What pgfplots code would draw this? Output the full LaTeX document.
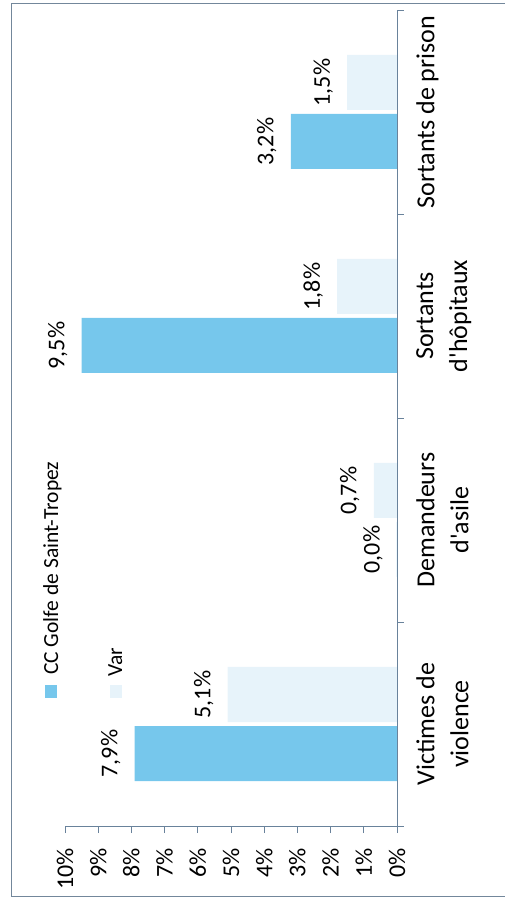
\documentclass[border=0pt]{standalone}
\usepackage{pgfplots}
\pgfplotsset{compat=1.18}
\usepackage{fontspec}
\setmainfont{Carlito}[Ligatures=TeXOff]
\definecolor{ccblue}{RGB}{118,199,236}
\definecolor{varblue}{RGB}{231,243,250}
\definecolor{framec}{RGB}{115,135,155}
\definecolor{axisc}{RGB}{105,130,155}

\begin{document}
\begin{tikzpicture}[x=1pt,y=1pt]
\useasboundingbox (0,0) rectangle (504,906);
\draw[framec, line width=1pt] (510,9) -- (11,9) -- (11,902) -- (510,902);
\begin{axis}[
  at={(65pt,80pt)}, anchor=south west,
  scale only axis, width=332pt, height=816pt,
  xbar, bar width=55pt,
  x dir=reverse,
  xmin=0, xmax=10, ymin=-0.5, ymax=3.5,
  clip=false,
  axis x line*=bottom, axis y line*=right,
  axis line style={axisc, line width=0.9pt},
  tick style={axisc, line width=0.9pt},
  tick align=outside,
  major tick length=7pt,
  /pgf/number format/assume math mode=true,
  xtick={0,1,...,10},
  xticklabel={\pgfmathprintnumber{\tick}\%},
  xticklabel style={rotate=90, anchor=east, inner sep=15pt, font=\fontsize{24}{28}\selectfont},
  ytick={-0.5,0.5,1.5,2.5,3.5},
  yticklabels={},
  extra y ticks={0,1,2,3},
  extra y tick labels={{Victimes de\\violence},{Demandeurs\\d'asile},{Sortants\\d'hôpitaux},{Sortants de prison}},
  extra y tick style={major tick length=0pt, yticklabel style={rotate=90, anchor=north, align=center, inner sep=19pt, font=\fontsize{26}{34}\selectfont}},
  point meta=x,
  nodes near coords={\pgfmathprintnumber[fixed,fixed zerofill,precision=1,use comma]{\pgfplotspointmeta}\%},
  every node near coord/.append style={rotate=90, anchor=south, inner sep=14pt, text=black, font=\fontsize{24}{28}\selectfont},
]
\addplot[fill=ccblue, draw=none, bar shift=-29.5pt] coordinates {(7.9,0) (0,1) (9.5,2) (3.2,3)};
\addplot[fill=varblue, draw=none, bar shift=29.5pt] coordinates {(5.1,0) (0.7,1) (1.8,2) (1.5,3)};
\end{axis}
% legend (rotated, as in the reference)
\fill[ccblue] (45,208) rectangle (57,221);
\node[rotate=90, anchor=base west, inner sep=0pt, font=\fontsize{21.5}{26}\selectfont] at (58,231) {CC Golfe de Saint-Tropez};
\fill[varblue] (110,208) rectangle (122,221);
\node[rotate=90, anchor=base west, inner sep=0pt, font=\fontsize{21.5}{26}\selectfont] at (122,229) {Var};
\end{tikzpicture}
\end{document}
